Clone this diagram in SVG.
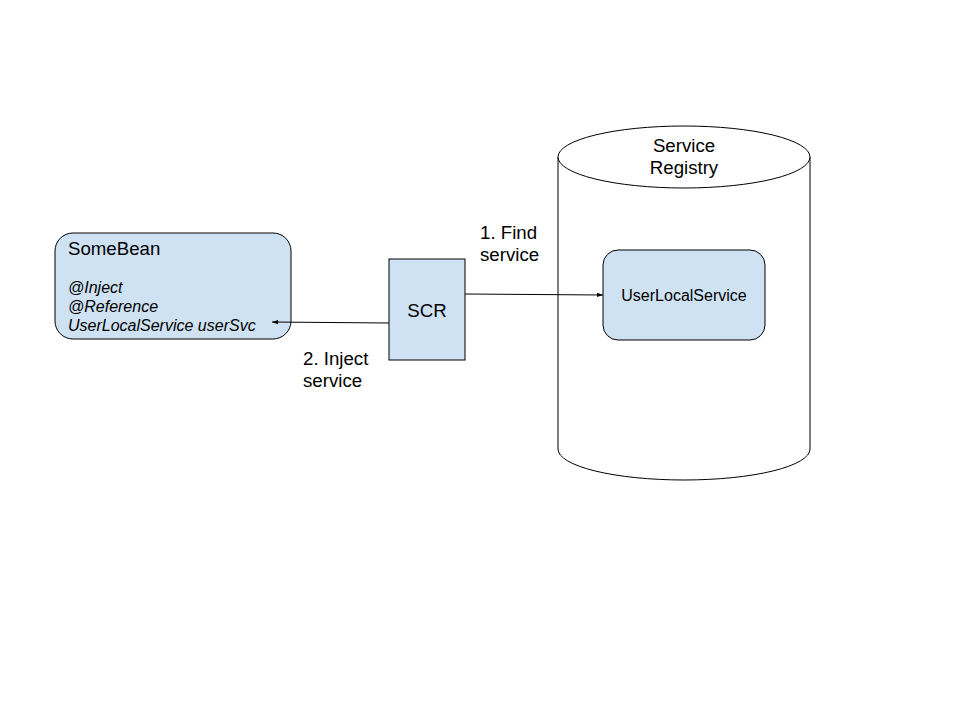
<svg xmlns="http://www.w3.org/2000/svg" width="960" height="720" viewBox="0 0 960 720">
<defs>
<style>
.box{fill:#cfe2f3;stroke:#000;stroke-width:1}
.t{font-family:"Liberation Sans",Arial,sans-serif;fill:#000}
.l{font-size:18.67px}
.s{font-size:16px}
.i{font-style:italic}
.c{stroke:#000;stroke-width:1;fill:none}
</style>
<marker id="ah" viewBox="0 0 10 10" refX="10" refY="5" markerWidth="6" markerHeight="6" orient="auto" markerUnits="userSpaceOnUse">
<path d="M0,1.5 L10,5 L0,8.5 z" fill="#000"/>
</marker>
</defs>
<rect width="960" height="720" fill="#fff"/>
<g id="registry">
<path d="M558,157 L558,449 A126,31 0 0 0 810,449 L810,157" fill="#fff" stroke="#000"/>
<ellipse cx="684" cy="157" rx="126" ry="31" fill="#fff" stroke="#000"/>
<text class="t l" x="684" y="152" text-anchor="middle">Service</text>
<text class="t l" x="684" y="174" text-anchor="middle">Registry</text>
</g>
<g id="userlocalservice">
<rect class="box" x="603" y="250" width="162" height="90" rx="15"/>
<text class="t s" x="684" y="301" text-anchor="middle">UserLocalService</text>
</g>
<g id="somebean">
<rect class="box" x="55" y="233" width="236" height="106" rx="18"/>
<text class="t l" x="68" y="255">SomeBean</text>
<text class="t s i" x="68" y="293">@Inject</text>
<text class="t s i" x="68" y="312">@Reference</text>
<text class="t s i" x="68" y="331">UserLocalService userSvc</text>
</g>
<g id="scr">
<rect class="box" x="389" y="259" width="76" height="101"/>
<text class="t l" x="427" y="317" text-anchor="middle">SCR</text>
</g>
<g id="connectors">
<line class="c" x1="465" y1="294" x2="603" y2="295" marker-end="url(#ah)"/>
<line class="c" x1="389" y1="323" x2="272" y2="322" marker-end="url(#ah)"/>
<text class="t l" x="480" y="239">1. Find</text>
<text class="t l" x="480" y="261">service</text>
<text class="t l" x="303" y="365">2. Inject</text>
<text class="t l" x="303" y="387">service</text>
</g>
</svg>
